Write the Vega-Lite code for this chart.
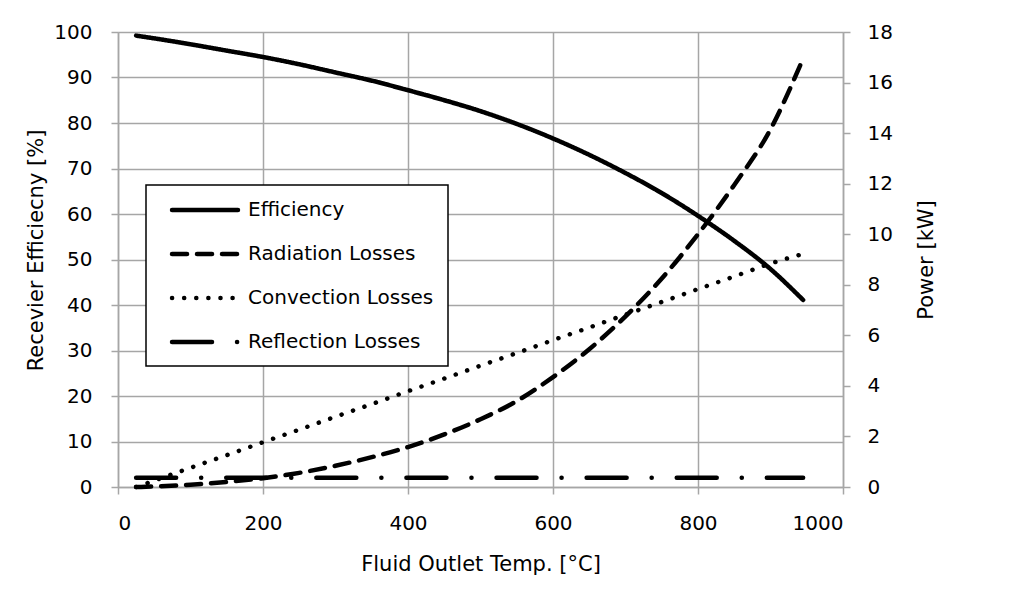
{
  "$schema": "https://vega.github.io/schema/vega-lite/v6.json",
  "autosize": {"type": "none"},
  "padding": {"left": 118, "top": 32, "right": 169, "bottom": 112},
  "width": 725,
  "height": 455,
  "background": "white",
  "config": {
    "view": {"stroke": null},
    "font": "DejaVu Sans",
    "axis": {
      "labelFont": "DejaVu Sans", "labelFontSize": 20, "labelColor": "black",
      "titleFont": "DejaVu Sans", "titleFontSize": 21, "titleColor": "black", "titleFontWeight": "normal",
      "domainColor": "#a6a6a6", "domainWidth": 1.5,
      "tickColor": "#a6a6a6", "tickWidth": 1.5, "tickSize": 7,
      "gridColor": "#a6a6a6", "gridWidth": 1.5
    }
  },
  "datasets": {
    "eff": [
      {"temp": 25, "series": "Efficiency", "value": 99.2},
      {"temp": 50, "series": "Efficiency", "value": 98.6},
      {"temp": 100, "series": "Efficiency", "value": 97.3},
      {"temp": 150, "series": "Efficiency", "value": 95.9},
      {"temp": 200, "series": "Efficiency", "value": 94.5},
      {"temp": 250, "series": "Efficiency", "value": 92.9},
      {"temp": 300, "series": "Efficiency", "value": 91.1},
      {"temp": 350, "series": "Efficiency", "value": 89.3},
      {"temp": 400, "series": "Efficiency", "value": 87.2},
      {"temp": 450, "series": "Efficiency", "value": 85.0},
      {"temp": 500, "series": "Efficiency", "value": 82.6},
      {"temp": 550, "series": "Efficiency", "value": 79.8},
      {"temp": 600, "series": "Efficiency", "value": 76.6},
      {"temp": 650, "series": "Efficiency", "value": 73.0},
      {"temp": 700, "series": "Efficiency", "value": 69.0},
      {"temp": 750, "series": "Efficiency", "value": 64.6},
      {"temp": 800, "series": "Efficiency", "value": 59.6},
      {"temp": 850, "series": "Efficiency", "value": 54.1},
      {"temp": 900, "series": "Efficiency", "value": 47.9},
      {"temp": 945, "series": "Efficiency", "value": 41.1}
    ],
    "loss": [
      {"temp": 25, "series": "Radiation Losses", "value": 0.0},
      {"temp": 50, "series": "Radiation Losses", "value": 0.02},
      {"temp": 100, "series": "Radiation Losses", "value": 0.09},
      {"temp": 150, "series": "Radiation Losses", "value": 0.2},
      {"temp": 200, "series": "Radiation Losses", "value": 0.35},
      {"temp": 250, "series": "Radiation Losses", "value": 0.56},
      {"temp": 300, "series": "Radiation Losses", "value": 0.84},
      {"temp": 350, "series": "Radiation Losses", "value": 1.18},
      {"temp": 400, "series": "Radiation Losses", "value": 1.58},
      {"temp": 450, "series": "Radiation Losses", "value": 2.08},
      {"temp": 500, "series": "Radiation Losses", "value": 2.68},
      {"temp": 550, "series": "Radiation Losses", "value": 3.4},
      {"temp": 600, "series": "Radiation Losses", "value": 4.35},
      {"temp": 650, "series": "Radiation Losses", "value": 5.45},
      {"temp": 700, "series": "Radiation Losses", "value": 6.75},
      {"temp": 750, "series": "Radiation Losses", "value": 8.25},
      {"temp": 800, "series": "Radiation Losses", "value": 10.0},
      {"temp": 850, "series": "Radiation Losses", "value": 11.95},
      {"temp": 900, "series": "Radiation Losses", "value": 14.15},
      {"temp": 945, "series": "Radiation Losses", "value": 16.95},
      {"temp": 25, "series": "Convection Losses", "value": 0.0},
      {"temp": 50, "series": "Convection Losses", "value": 0.25},
      {"temp": 100, "series": "Convection Losses", "value": 0.76},
      {"temp": 150, "series": "Convection Losses", "value": 1.26},
      {"temp": 200, "series": "Convection Losses", "value": 1.77},
      {"temp": 250, "series": "Convection Losses", "value": 2.27},
      {"temp": 300, "series": "Convection Losses", "value": 2.78},
      {"temp": 350, "series": "Convection Losses", "value": 3.28},
      {"temp": 400, "series": "Convection Losses", "value": 3.79},
      {"temp": 450, "series": "Convection Losses", "value": 4.29},
      {"temp": 500, "series": "Convection Losses", "value": 4.8},
      {"temp": 550, "series": "Convection Losses", "value": 5.3},
      {"temp": 600, "series": "Convection Losses", "value": 5.81},
      {"temp": 650, "series": "Convection Losses", "value": 6.31},
      {"temp": 700, "series": "Convection Losses", "value": 6.82},
      {"temp": 750, "series": "Convection Losses", "value": 7.32},
      {"temp": 800, "series": "Convection Losses", "value": 7.83},
      {"temp": 850, "series": "Convection Losses", "value": 8.33},
      {"temp": 900, "series": "Convection Losses", "value": 8.84},
      {"temp": 945, "series": "Convection Losses", "value": 9.22},
      {"temp": 25, "series": "Reflection Losses", "value": 0.37},
      {"temp": 945, "series": "Reflection Losses", "value": 0.37}
    ]
  },
  "layer": [
    {
      "data": {"name": "eff"},
      "mark": {"type": "line", "color": "black", "strokeWidth": 4.5, "strokeCap": "round", "interpolate": "monotone"},
      "encoding": {
        "x": {"field": "temp", "type": "quantitative", "scale": {"domain": [0, 1000], "nice": false},
              "axis": {"values": [0, 200, 400, 600, 800, 1000], "format": "d", "title": "Fluid Outlet Temp. [°C]", "labelPadding": 19, "titlePadding": 20, "grid": true}},
        "y": {"field": "value", "type": "quantitative", "scale": {"domain": [0, 100], "nice": false},
              "axis": {"orient": "left", "values": [0, 10, 20, 30, 40, 50, 60, 70, 80, 90, 100], "title": "Recevier Efficiecny [%]", "labelPadding": 19, "titlePadding": 7, "titleY": 218, "grid": true}},
        "strokeDash": {
          "field": "series", "type": "nominal",
          "scale": {
            "domain": ["Efficiency", "Radiation Losses", "Convection Losses", "Reflection Losses"],
            "range": [[1, 0], [15, 10], [0.1, 12], [40, 25, 0.1, 25]]
          },
          "legend": {
            "title": null, "orient": "none", "legendX": 28, "legendY": 153,
            "fillColor": "white", "strokeColor": "black", "padding": 14,
            "symbolType": "M-3.77,0H3.77", "symbolSize": 306, "symbolStrokeWidth": 4.5, "symbolStrokeColor": "black", "symbolFillColor": "transparent",
            "symbolOffset": 34,
            "labelFont": "DejaVu Sans", "labelFontSize": 20, "labelColor": "black", "labelOffset": 32, "labelLimit": 400, "rowPadding": 23,
            "encode": {"symbols": {"update": {"strokeCap": {"value": "round"}}}, "legend": {"update": {"strokeWidth": {"value": 1.5}}}}
          }
        }
      }
    },
    {
      "data": {"name": "loss"},
      "mark": {"type": "line", "color": "black", "strokeWidth": 4.5, "strokeCap": "round", "interpolate": "monotone"},
      "encoding": {
        "x": {"field": "temp", "type": "quantitative"},
        "y": {"field": "value", "type": "quantitative", "scale": {"domain": [0, 18], "nice": false},
              "axis": {"orient": "right", "values": [0, 2, 4, 6, 8, 10, 12, 14, 16, 18], "title": "Power [kW]", "titleAngle": 270, "labelPadding": 17, "titlePadding": 44, "grid": false}},
        "strokeDash": {"field": "series", "type": "nominal"}
      }
    }
  ],
  "resolve": {"scale": {"y": "independent"}}
}
